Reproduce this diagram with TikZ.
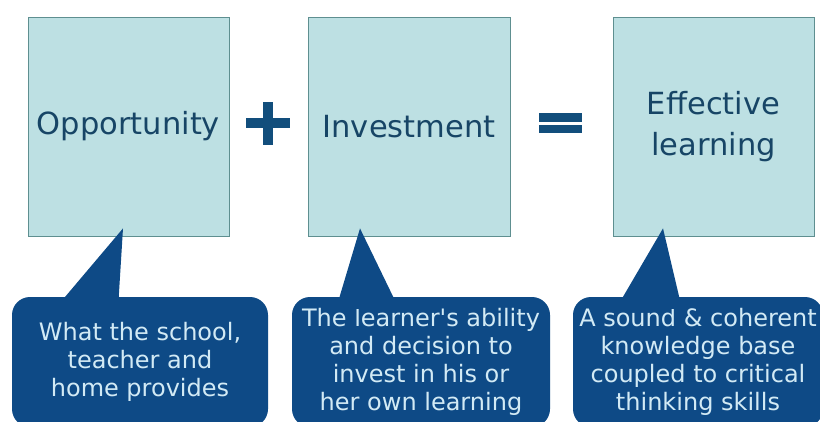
\documentclass[tikz,border=0pt]{standalone}
\usepackage{fontspec}
\setmainfont{DejaVu Sans}[Ligatures=TeXOff]
\usetikzlibrary{calc}
\definecolor{boxfill}{HTML}{BDE0E3}
\definecolor{boxline}{HTML}{5E8F90}
\definecolor{boxtext}{HTML}{174566}
\definecolor{callfill}{HTML}{0E4A86}
\definecolor{calltext}{HTML}{D2EAF5}
\definecolor{symcol}{HTML}{124E7C}
\tikzset{
  bigbox/.style={draw=boxline, line width=0.8pt, fill=boxfill, minimum width=201pt, minimum height=219pt, inner sep=0pt, text=boxtext, font=\fontsize{30.5}{41}\selectfont, align=center},
  callout/.style={fill=callfill, rounded corners=18pt, inner sep=0pt, text=calltext, font=\fontsize{24}{28}\selectfont, align=center, minimum height=130pt},
  pointer/.style={fill=callfill}
}
\begin{document}
\begin{tikzpicture}[x=1pt,y=-1pt]
\useasboundingbox (0,0) rectangle (820,421);
\fill[white] (0,0) rectangle (820,421);
% boxes
\node[bigbox] (b1) at (128.5,126.5) {Opportunity};
\node[bigbox, minimum width=202pt] (b2) at (409,126.5) {Investment};
\node[bigbox] (b3) at (713.5,126.5) {Effective\\learning};
% plus and equals
\fill[symcol] (246,118) rectangle (290,128);
\fill[symcol] (263,102) rectangle (273,145);
\fill[symcol] (539,113) rectangle (582,122);
\fill[symcol] (539,125) rectangle (582,133);
% callouts
\node[callout, minimum width=256pt] (c1) at (140,362) {What the school,\\teacher and\\home provides};
\node[callout, minimum width=258pt] (c2) at (421,362) {The learner's ability\\and decision to\\invest in his or\\her own learning};
\node[callout, minimum width=250pt] (c3) at (698,362) {A sound \& coherent\\knowledge base\\coupled to critical\\thinking skills};
% pointers
\fill[pointer] ($(b1.south)+(-5.5,-8)$) -- ($(c1.north)+(-22,12)$) -- ($(c1.north)+(-85,12)$) -- cycle;
\fill[pointer] ($(b2.south)+(-49,-8)$) -- ($(c2.north)+(-22,12)$) -- ($(c2.north)+(-85,12)$) -- cycle;
\fill[pointer] ($(b3.south)+(-50.5,-8)$) -- ($(c3.north)+(-16,12)$) -- ($(c3.north)+(-82,12)$) -- cycle;
\end{tikzpicture}
\end{document}
